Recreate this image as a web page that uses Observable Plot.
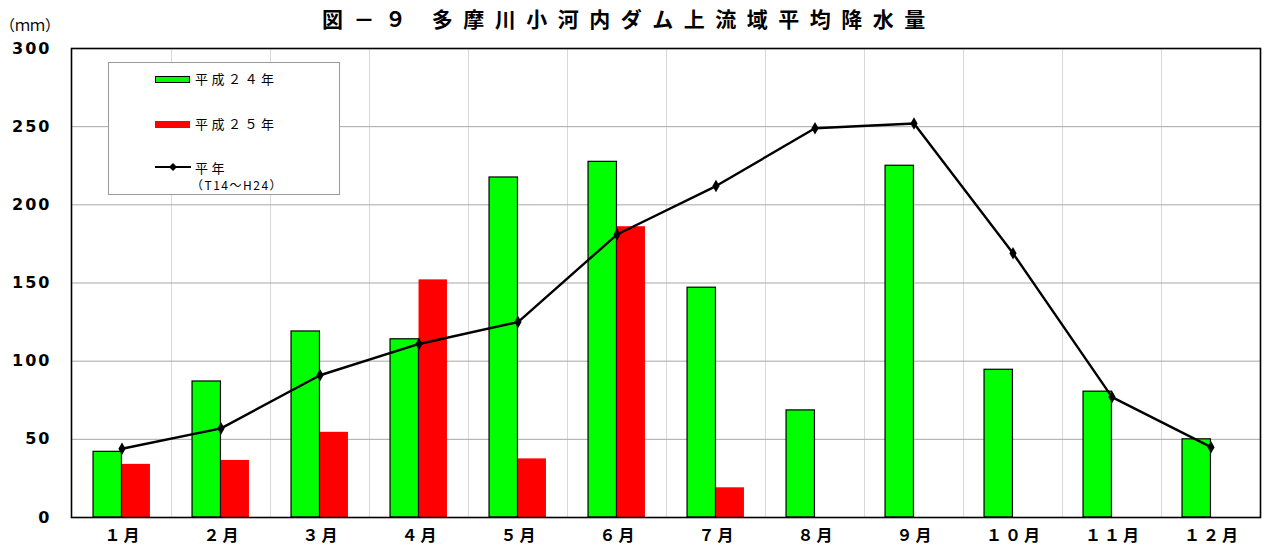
<!DOCTYPE html>
<html><head><meta charset="utf-8">
<script src="https://cdn.jsdelivr.net/npm/d3@7"></script>
<script src="https://cdn.jsdelivr.net/npm/@observablehq/plot@0.6"></script>
<style>
body{margin:0;background:#fff;}
#wrap{position:relative;width:1264px;height:551px;font-family:"Noto Sans CJK JP",sans-serif;}
.abs{position:absolute;white-space:nowrap;}
#title{left:322px;top:6px;font-size:21px;font-weight:bold;letter-spacing:10.5px;line-height:24px;}
#unit{left:0px;top:15px;font-size:15px;line-height:20px;}
#legend{left:108px;top:62px;width:232px;height:133px;border:1px solid #999;background:#fff;box-sizing:border-box;}
.lt{font-size:13px;letter-spacing:3.5px;line-height:16px;}
[aria-label="x-axis tick label"]{letter-spacing:3px;}
[aria-label="y-axis tick label"]{letter-spacing:2px;}
</style></head>
<body>
<div id="wrap">
  <div id="chart" class="abs" style="left:0;top:0"></div>
  <div id="title" class="abs"></div>
  <div id="unit" class="abs"></div>
  <div id="legend" class="abs"></div>
</div>
<script>
const titleText = "図－９ 多摩川小河内ダム上流域平均降水量";
const unitText = "（ｍｍ）";
const months = ["１月","２月","３月","４月","５月","６月","７月","８月","９月","１０月","１１月","１２月"];
const h24 = [42, 87, 119, 114, 217.5, 227.5, 147, 68.5, 225, 94.5, 80.5, 50];
const h25 = [34, 36.5, 54.5, 152, 37.5, 186, 19, null, null, null, null, null];
const normal = [44, 57, 91, 111, 125, 181, 212, 249, 252, 169, 77, 45];
const yTicks = [0, 50, 100, 150, 200, 250, 300];
const seriesNames = ["平成２４年", "平成２５年", "平年", "（T14～H24）"];

const W = 1264, H = 551, mL = 71, mR = 4, mT = 48, mB = 34;
const bw = (W - mL - mR) / months.length;

const rows24 = months.map((m, i) => ({m, v: h24[i]}));
const rows25 = months.map((m, i) => ({m, v: h25[i]})).filter(d => d.v != null);
const rowsN = months.map((m, i) => ({m, v: normal[i]}));

const chart = Plot.plot({
  width: W, height: H,
  marginLeft: mL, marginRight: mR, marginTop: mT, marginBottom: mB,
  x: {type: "band", domain: months, padding: 0, axis: null, label: null},
  y: {domain: [0, 300], axis: null, label: null},
  style: {fontFamily: "'Noto Sans CJK JP', sans-serif", background: "#fff"},
  marks: [
    Plot.ruleX(months.slice(1), {x: d => d, dx: -bw / 2, stroke: "#d8d8d8", strokeWidth: 1}),
    Plot.ruleY(yTicks.filter(t => t > 0 && t < 300), {stroke: "#a8a8a8", strokeWidth: 1}),
    Plot.barY(rows25, {x: "m", y: "v", fill: "#ff0000", insetLeft: bw / 2, insetRight: bw / 2 - 28.5}),
    Plot.barY(rows24, {x: "m", y: "v", fill: "#00ff00", stroke: "#000", strokeWidth: 1.2, insetLeft: bw / 2 - 28.5, insetRight: bw / 2}),
    Plot.line(rowsN, {x: "m", y: "v", stroke: "#000", strokeWidth: 2.4}),
    Plot.dot(rowsN, {x: "m", y: "v", symbol: "diamond", r: 3.8, fill: "#000", stroke: "none"}),
    Plot.frame({stroke: "#000", strokeWidth: 1.6}),
    Plot.axisY(yTicks, {label: null, tickSize: 0, tickPadding: 0, dx: -20, fontSize: 16, fontWeight: "bold", fontFamily: "'DejaVu Sans', sans-serif", fill: "#000"}),
    Plot.axisX(months, {label: null, tickSize: 0, tickPadding: 12, dx: 1.5, fontSize: 16, fontWeight: "bold", fontFamily: "'Noto Sans CJK JP', sans-serif", fill: "#000"})
  ]
});
document.getElementById("chart").appendChild(chart);
document.getElementById("title").textContent = titleText;
document.getElementById("unit").textContent = unitText;

const lg = document.getElementById("legend");
lg.innerHTML = `
 <div class="abs" style="left:46px;top:13px;width:33px;height:5px;background:#00ff00;border:1px solid #000;"></div>
 <div class="abs lt" style="left:86px;top:8px;">${seriesNames[0]}</div>
 <div class="abs" style="left:46px;top:58px;width:35px;height:7px;background:#ff0000;"></div>
 <div class="abs lt" style="left:86px;top:53px;">${seriesNames[1]}</div>
 <svg class="abs" style="left:44px;top:98px" width="40" height="12"><line x1="2" y1="6" x2="38" y2="6" stroke="#000" stroke-width="2"/><path d="M20,2 L24,6 L20,10 L16,6 Z" fill="#000"/></svg>
 <div class="abs lt" style="left:86px;top:97px;">${seriesNames[2]}</div>
 <div class="abs" style="left:82px;top:114px;font-size:12px;letter-spacing:1.5px;line-height:16px;">${seriesNames[3]}</div>
`;
</script>
</body></html>
